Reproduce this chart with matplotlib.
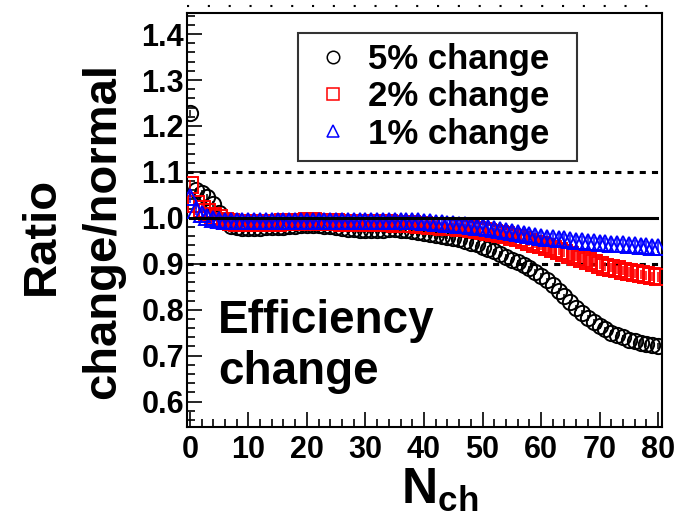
import matplotlib
matplotlib.use("Agg")
import matplotlib.pyplot as plt
from matplotlib.lines import Line2D
from matplotlib.ticker import MultipleLocator

plt.rcParams['font.family'] = ['Liberation Sans', 'DejaVu Sans']
plt.rcParams['font.weight'] = 'bold'
plt.rcParams['mathtext.fontset'] = 'custom'
plt.rcParams['mathtext.rm'] = 'Liberation Sans:bold'
plt.rcParams['mathtext.bf'] = 'Liberation Sans:bold'
plt.rcParams['mathtext.it'] = 'Liberation Sans:bold'

nch = list(range(81))

ratio_5 = [1.228, 1.060, 1.055, 1.045, 1.030, 1.010, 0.992, 0.983, 0.979, 0.978,
           0.978, 0.978, 0.978, 0.979, 0.979, 0.980, 0.981, 0.982, 0.983, 0.984,
           0.985, 0.984, 0.984, 0.983, 0.982, 0.980, 0.978, 0.976, 0.975, 0.974,
           0.973, 0.973, 0.974, 0.974, 0.975, 0.975, 0.974, 0.973, 0.971, 0.969,
           0.967, 0.965, 0.963, 0.961, 0.959, 0.956, 0.953, 0.950, 0.946, 0.942,
           0.937, 0.932, 0.927, 0.921, 0.915, 0.909, 0.903, 0.897, 0.890, 0.882,
           0.874, 0.864, 0.853, 0.841, 0.829, 0.816, 0.804, 0.793, 0.782, 0.773,
           0.764, 0.757, 0.750, 0.745, 0.740, 0.735, 0.731, 0.728, 0.725, 0.723,
           0.721]

ratio_2 = [1.072, 1.030, 1.020, 1.012, 1.005, 0.999, 0.994, 0.991, 0.989, 0.988,
           0.988, 0.988, 0.988, 0.989, 0.989, 0.989, 0.990, 0.990, 0.991, 0.991,
           0.992, 0.992, 0.991, 0.991, 0.990, 0.990, 0.989, 0.989, 0.988, 0.988,
           0.988, 0.988, 0.988, 0.988, 0.988, 0.987, 0.987, 0.986, 0.986, 0.985,
           0.984, 0.983, 0.982, 0.981, 0.980, 0.979, 0.978, 0.977, 0.975, 0.973,
           0.971, 0.969, 0.967, 0.965, 0.962, 0.959, 0.956, 0.952, 0.948, 0.944,
           0.940, 0.936, 0.932, 0.928, 0.924, 0.919, 0.915, 0.911, 0.906, 0.902,
           0.898, 0.894, 0.891, 0.888, 0.885, 0.882, 0.879, 0.877, 0.875, 0.873,
           0.871]

ratio_1 = [1.045, 1.018, 1.008, 1.002, 0.998, 0.995, 0.994, 0.993, 0.993, 0.993,
           0.993, 0.993, 0.993, 0.993, 0.993, 0.993, 0.994, 0.994, 0.994, 0.994,
           0.994, 0.994, 0.994, 0.994, 0.994, 0.994, 0.994, 0.994, 0.994, 0.994,
           0.994, 0.994, 0.994, 0.994, 0.994, 0.993, 0.993, 0.993, 0.992, 0.992,
           0.991, 0.990, 0.989, 0.988, 0.987, 0.986, 0.985, 0.984, 0.983, 0.981,
           0.979, 0.977, 0.975, 0.973, 0.971, 0.969, 0.967, 0.965, 0.963, 0.961,
           0.959, 0.957, 0.956, 0.954, 0.953, 0.951, 0.950, 0.949, 0.948, 0.947,
           0.946, 0.945, 0.944, 0.943, 0.942, 0.941, 0.940, 0.939, 0.938, 0.937,
           0.936]

err_5 = 0.006
err_2 = 0.010
err_1 = 0.012

labels = ['5% change', '2% change', '1% change']
colors = ['black', 'red', 'blue']
markers = ['o', 's', '^']

fig = plt.figure(figsize=(6.87, 5.18), dpi=100)
ax = fig.add_axes([0.272, 0.176, 0.692, 0.799])

series = [ratio_5, ratio_2, ratio_1]
errs = [err_5, err_2, err_1]
for i in range(3):
    ax.errorbar(nch, series[i], yerr=errs[i], fmt=markers[i], mfc='none', mec=colors[i],
                ecolor=colors[i], ms=11, mew=1.4, elinewidth=1.1, capsize=0, zorder=3 + i)

# reference lines
ax.plot([0, 79.8], [1.0, 1.0], color='black', lw=2.2, zorder=6)
ax.axhline(1.1, color='black', lw=2.2, ls=(0, (2, 2)), zorder=2)
ax.axhline(0.9, color='black', lw=2.2, ls=(0, (2, 2)), zorder=2)
ax.axhline(1.462, color='black', lw=1.5, ls=(0, (1, 9)), clip_on=False)

ax.set_xlim(-0.5, 80.7)
ax.set_ylim(0.545, 1.446)
ax.xaxis.set_major_locator(MultipleLocator(10))
ax.xaxis.set_minor_locator(MultipleLocator(2))
ax.yaxis.set_major_locator(MultipleLocator(0.1))
ax.yaxis.set_minor_locator(MultipleLocator(0.02))
ax.yaxis.set_major_formatter(plt.FuncFormatter(lambda v, p: f'{v:.1f}'))
ax.tick_params(which='both', direction='in', top=False, right=False, labelsize=22, width=1.2)
ax.tick_params(which='major', length=11)
ax.tick_params(which='minor', length=6)
ax.tick_params(axis='x', pad=6)
ax.tick_params(axis='y', pad=2)
for s in ax.spines.values():
    s.set_linewidth(1.5)

fig.text(0.061, 0.545, 'Ratio', rotation=90, fontsize=34, fontweight='bold',
         ha='center', va='center')
fig.text(0.150, 0.555, 'change/normal', rotation=90, fontsize=34, fontweight='bold',
         ha='center', va='center')
fig.text(0.64, 0.028, r'$\mathbf{N_{ch}}$', fontsize=36, ha='center', va='baseline')

ax.text(0.065, 0.195, 'Efficiency\nchange', transform=ax.transAxes, fontsize=33,
        fontweight='bold', ha='left', va='center', linespacing=1.2)

handles = [Line2D([], [], ls='none', marker=markers[i], mfc='none', mec=colors[i],
                  ms=9, mew=1.1) for i in range(3)]
leg = ax.legend(handles, labels, loc='upper left', bbox_to_anchor=(0.234, 0.5, 0.587, 0.452),
                mode='expand', borderaxespad=0, fontsize=25, frameon=True, fancybox=False,
                edgecolor='black', handlelength=1.41, handletextpad=0.31, borderpad=0.3,
                labelspacing=0.12)
leg.get_frame().set_linewidth(1.5)

fig.savefig('out.png', dpi=100)
